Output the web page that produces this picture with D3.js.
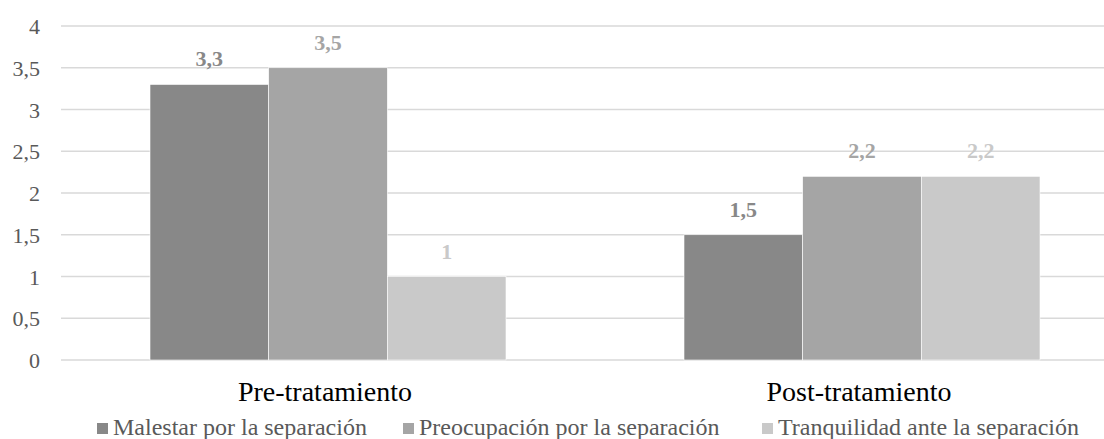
<!DOCTYPE html>
<html>
<head>
<meta charset="utf-8">
<script src="https://cdn.jsdelivr.net/npm/d3@7/dist/d3.min.js"></script>
<style>
  html, body { margin: 0; padding: 0; background: #fff; }
  svg { display: block; }
</style>
</head>
<body>
<svg id="chart" width="1104" height="439"></svg>
<script>
// Grouped bar chart: separation scores before and after treatment
const categories = ["Pre-tratamiento", "Post-tratamiento"];
const seriesNames = ["Malestar por la separación", "Preocupación por la separación", "Tranquilidad ante la separación"];
const malestar = [3.3, 1.5];
const preocupacion = [3.5, 2.2];
const tranquilidad = [1, 2.2];
const tickValues = [0, 0.5, 1, 1.5, 2, 2.5, 3, 3.5, 4];
const seriesColors = ["#888888", "#a5a5a5", "#c9c9c9"];

const seriesValues = [malestar, preocupacion, tranquilidad];
const fmt = v => String(v).replace(".", ",");
const serif = '"Liberation Serif"';

const svg = d3.select("#chart");
const plot = { left: 61, right: 1129, top: 26, bottom: 360 };

const y = d3.scaleLinear().domain([0, 4]).range([plot.bottom, plot.top]);
// category bands with 150% gap width between groups
const x0 = d3.scaleBand().domain(categories).range([plot.left, plot.right])
  .paddingInner(0).paddingOuter(0);
const groupPad = 1.5 / 4.5;
const x1 = d3.scaleBand().domain(seriesNames)
  .range([x0.bandwidth() * groupPad / 2, x0.bandwidth() * (1 - groupPad / 2)])
  .padding(0);

// horizontal gridlines
svg.append("g").selectAll("line").data(tickValues).join("line")
  .attr("x1", plot.left).attr("x2", plot.right)
  .attr("y1", d => y(d)).attr("y2", d => y(d))
  .attr("stroke", "#d9d9d9").attr("stroke-width", 1.5);

// y axis tick labels
const yAxis = d3.axisLeft(y).tickValues(tickValues).tickFormat(fmt).tickSize(0).tickPadding(0);
const gy = svg.append("g").attr("transform", "translate(40,0)").call(yAxis);
gy.select(".domain").remove();
gy.selectAll("text")
  .style("font-family", serif).style("font-size", "22px").attr("fill", "#595959")
  .attr("dy", "0.35em");

// bars
const groups = svg.append("g").selectAll("g").data(categories).join("g")
  .attr("transform", d => `translate(${x0(d)},0)`);

groups.selectAll("rect")
  .data((c, ci) => seriesNames.map((s, si) => ({ s, si, v: seriesValues[si][ci] })))
  .join("rect")
  .attr("x", d => x1(d.s))
  .attr("width", x1.bandwidth())
  .attr("y", d => y(d.v))
  .attr("height", d => y(0) - y(d.v))
  .attr("fill", d => seriesColors[d.si])
  .attr("stroke", "#ffffff").attr("stroke-width", 0.6);

// value labels
groups.selectAll("text.val")
  .data((c, ci) => seriesNames.map((s, si) => ({ s, si, v: seriesValues[si][ci] })))
  .join("text").attr("class", "val")
  .attr("x", d => x1(d.s) + x1.bandwidth() / 2)
  .attr("y", d => y(d.v) - 18)
  .attr("text-anchor", "middle")
  .style("font-family", serif).style("font-size", "22px").style("font-weight", "bold")
  .attr("fill", d => seriesColors[d.si])
  .text(d => fmt(d.v));

// category labels
svg.append("g").selectAll("text").data(categories).join("text")
  .attr("x", d => x0(d) + x0.bandwidth() / 2 - 3)
  .attr("y", 401)
  .attr("text-anchor", "middle")
  .style("font-family", serif).style("font-size", "28px").attr("fill", "#000")
  .text(d => d);

// legend
const legendX = [97, 403, 762];
const legend = svg.append("g").selectAll("g").data(seriesNames).join("g")
  .attr("transform", (d, i) => `translate(${legendX[i]},0)`);
legend.append("rect")
  .attr("x", 0).attr("y", 423).attr("width", 11).attr("height", 11)
  .attr("fill", (d, i) => seriesColors[i]);
legend.append("text")
  .attr("x", 16).attr("y", 435)
  .style("font-family", serif).style("font-size", "24px").attr("fill", "#595959")
  .text(d => d);
</script>
</body>
</html>
